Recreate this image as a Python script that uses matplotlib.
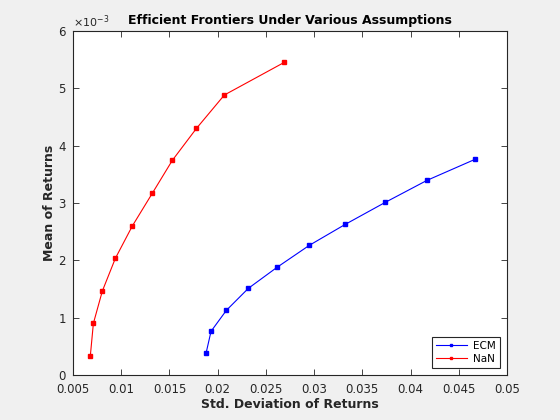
import numpy as np
from matplotlib import pyplot as plt
from matplotlib.ticker import ScalarFormatter

# std. deviation / mean of returns
ecm_std = [0.01879, 0.01931, 0.02090, 0.02318, 0.02615,
           0.02950, 0.03323, 0.03738, 0.04171, 0.04668]
ecm_mean = [0.378e-3, 0.762e-3, 1.128e-3, 1.512e-3, 1.878e-3,
            2.262e-3, 2.628e-3, 3.012e-3, 3.396e-3, 3.762e-3]

nan_std = [0.00679, 0.00711, 0.00804, 0.00939, 0.01115,
           0.01322, 0.01530, 0.01779, 0.02069, 0.02691]
nan_mean = [0.326e-3, 0.900e-3, 1.465e-3, 2.035e-3, 2.600e-3,
            3.170e-3, 3.745e-3, 4.300e-3, 4.884e-3, 5.454e-3]

xticks = np.arange(0.005, 0.0501, 0.005)
xlabels = ['0.005', '0.01', '0.015', '0.02', '0.025',
           '0.03', '0.035', '0.04', '0.045', '0.05']

grey = '#262626'
plt.rcParams['font.family'] = 'DejaVu Sans'
plt.rcParams['font.size'] = 8.5

fig = plt.figure(figsize=(5.6, 4.2), dpi=100, facecolor='#f0f0f0')
ax = fig.add_axes([0.1304, 0.1071, 0.775, 0.819])

ax.plot(ecm_std, ecm_mean, '-', color='#0000ff', lw=0.8,
        marker='s', ms=2.2, label='ECM')
ax.plot(nan_std, nan_mean, '-', color='#ff0000', lw=0.8,
        marker='s', ms=2.2, label='NaN')

ax.set_xlim(0.005, 0.05)
ax.set_ylim(0, 6e-3)
ax.set_xticks(xticks)
ax.set_xticklabels(xlabels)
ax.set_yticks(np.arange(0, 6.1e-3, 1e-3))

fmt = ScalarFormatter(useMathText=True)
fmt.set_powerlimits((-3, -3))
ax.yaxis.set_major_formatter(fmt)
ax.yaxis.get_offset_text().set_color('#808080')
ax.yaxis.get_offset_text().set_fontsize(8)

ax.tick_params(direction='in', top=True, right=True, length=4,
               width=0.6, colors=grey, labelsize=8.5)
ax.tick_params(axis='x', pad=6)
ax.tick_params(axis='y', pad=4.5)
for s in ax.spines.values():
    s.set_color(grey)
    s.set_linewidth(0.8)

ax.set_xlabel('Std. Deviation of Returns', fontweight='bold', color=grey,
              fontsize=9, labelpad=1)
ax.set_ylabel('Mean of Returns', fontweight='bold', color=grey,
              fontsize=9, labelpad=1.5)
ax.set_title('Efficient Frontiers Under Various Assumptions',
             fontweight='bold', fontsize=9, color='black', pad=5)

leg = ax.legend(loc='lower right', fontsize=7.5, fancybox=False,
                edgecolor=grey, framealpha=1, handlelength=3.0,
                borderaxespad=0.7, borderpad=0.35, labelspacing=0.3,
                handletextpad=0.6, markerscale=0.9)
leg.get_frame().set_linewidth(0.8)

fig.savefig('out.png', dpi=100, facecolor=fig.get_facecolor())
